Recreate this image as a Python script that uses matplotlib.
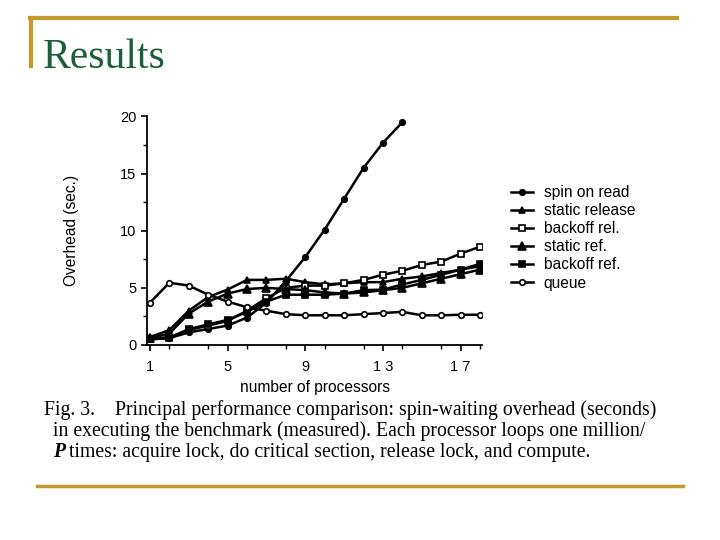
import matplotlib.pyplot as plt
from matplotlib.lines import Line2D
from matplotlib.ticker import MultipleLocator

# Data
procs = list(range(1, 19))
spin_on_read = [0.5, 0.6, 1.1, 1.4, 1.7, 2.4, 3.7, 5.6, 7.7, 10.1, 12.8, 15.5, 17.7, 19.5]
static_release = [0.7, 1.3, 3.0, 4.2, 4.85, 5.7, 5.7, 5.8, 5.5, 5.3, 5.4, 5.5, 5.5, 5.8, 6.0, 6.3, 6.6, 6.9]
backoff_rel = [0.5, 0.7, 1.3, 1.7, 2.1, 3.0, 4.1, 5.0, 5.2, 5.2, 5.4, 5.7, 6.15, 6.5, 7.0, 7.3, 8.0, 8.6]
static_ref = [0.6, 1.0, 2.75, 3.8, 4.5, 4.9, 5.0, 4.9, 4.8, 4.6, 4.5, 4.6, 4.8, 5.0, 5.4, 5.8, 6.2, 6.6]
backoff_ref = [0.5, 0.6, 1.4, 1.8, 2.2, 2.9, 3.8, 4.4, 4.4, 4.4, 4.5, 4.8, 4.85, 5.3, 5.7, 6.15, 6.6, 7.1]
queue = [3.7, 5.45, 5.2, 4.4, 3.8, 3.3, 3.0, 2.7, 2.6, 2.6, 2.6, 2.7, 2.8, 2.9, 2.6, 2.6, 2.65, 2.65]

xticks = [1, 5, 9, 13, 17]
xtick_labels = ['1', '5', '9', '1 3', '1 7']

gold = '#C49A2C'
green = '#1D5E3A'

fig = plt.figure(figsize=(7.2, 5.4), dpi=100)

# slide decoration
fig.add_artist(Line2D([30 / 720, 677 / 720], [1 - 18 / 540, 1 - 18 / 540], color=gold, lw=3))
fig.add_artist(Line2D([31 / 720, 31 / 720], [1 - 18 / 540, 1 - 66 / 540], color=gold, lw=3))
fig.add_artist(Line2D([37 / 720, 683 / 720], [1 - 486 / 540, 1 - 486 / 540], color=gold, lw=2.5))
fig.text(43 / 720, 1 - 68 / 540, 'Results', fontsize=30, family='Liberation Serif',
         color=green, ha='left', va='baseline')

ax = fig.add_axes([147 / 720, 1 - 345 / 540, (482 - 147) / 720, (345 - 116.5) / 540])

series = [
    ('spin on read', spin_on_read, dict(marker='o', ms=4, mfc='black')),
    ('static release', static_release, dict(marker='^', ms=4, mfc='black')),
    ('backoff rel.', backoff_rel, dict(marker='s', ms=4.5, mfc='white')),
    ('static ref.', static_ref, dict(marker='^', ms=5.5, mfc='black')),
    ('backoff ref.', backoff_ref, dict(marker='s', ms=5, mfc='black')),
    ('queue', queue, dict(marker='o', ms=4, mfc='white')),
]
for name, vals, style in series:
    ax.plot(procs[:len(vals)], vals, color='black', lw=1.8, mec='black', mew=1.2,
            label=name, **style)

ax.set_xlim(0.85, 18.1)
ax.set_ylim(0, 20)
ax.spines['top'].set_visible(False)
ax.spines['right'].set_visible(False)
ax.spines['left'].set_linewidth(1.3)
ax.spines['bottom'].set_linewidth(1.3)
ax.set_xticks(xticks)
ax.set_xticklabels(xtick_labels)
ax.xaxis.set_minor_locator(MultipleLocator(2))
ax.yaxis.set_major_locator(MultipleLocator(5))
ax.yaxis.set_minor_locator(MultipleLocator(2.5))
ax.tick_params(which='major', length=4, width=1.2, labelsize=10.5, direction='out')
ax.tick_params(axis='x', which='major', pad=7)
ax.tick_params(which='minor', length=3, width=1.0, direction='out')
for lab in ax.get_xticklabels() + ax.get_yticklabels():
    lab.set_family('Liberation Sans')
ax.set_xlabel('number of processors', fontsize=11.2, family='Liberation Sans', labelpad=4)
ax.set_ylabel('Overhead (sec.)', fontsize=11.2, family='Liberation Sans', labelpad=30)

fig.legend(loc='upper left', bbox_to_anchor=(497 / 720, 1 - 171 / 540), frameon=False,
           prop={'family': 'Liberation Sans', 'size': 11.2}, handlelength=1.4,
           labelspacing=0.2, handletextpad=0.7)

# caption
cap_font = dict(family='Liberation Serif', fontsize=14.2, color='black', ha='left', va='baseline')
fig.text(44 / 720, 1 - 415 / 540,
         'Fig. 3.    Principal performance comparison: spin-waiting overhead (seconds)', **cap_font)
fig.text(53 / 720, 1 - 436 / 540,
         'in executing the benchmark (measured). Each processor loops one million/', **cap_font)
fig.text(53 / 720, 1 - 457 / 540, 'P', fontweight='bold', fontstyle='italic', **cap_font)
fig.text(64 / 720, 1 - 457 / 540,
         ' times: acquire lock, do critical section, release lock, and compute.', **cap_font)

fig.savefig('out.png', dpi=100)
